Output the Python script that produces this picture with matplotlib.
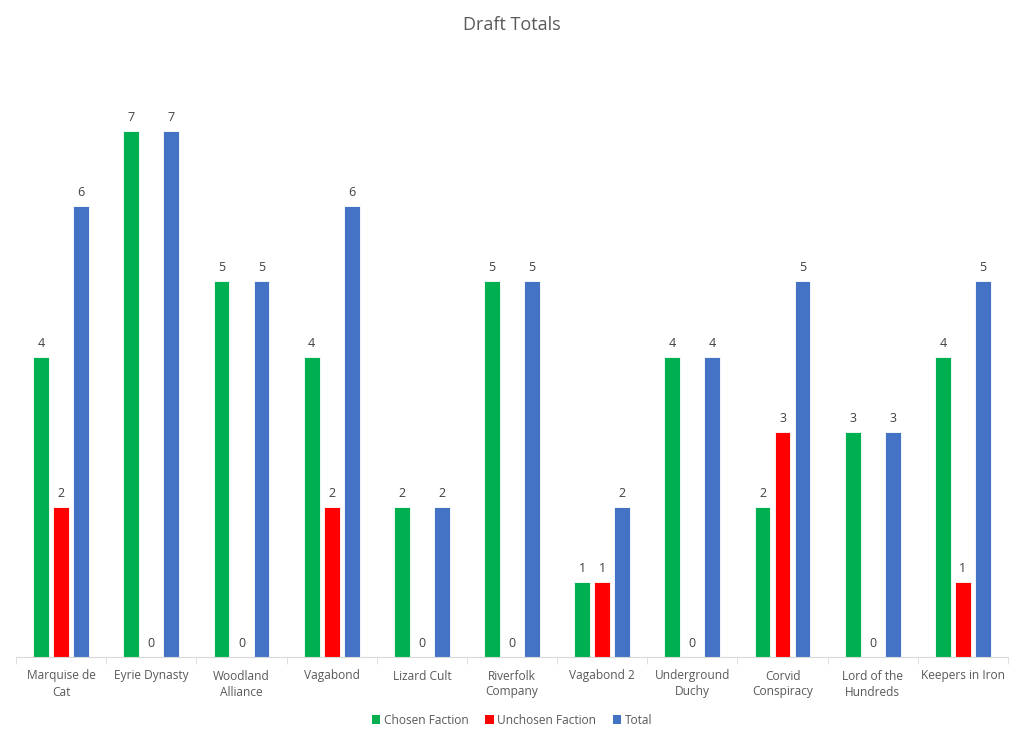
import matplotlib
matplotlib.use("Agg")
import matplotlib.pyplot as plt
import numpy as np
from matplotlib.patches import Patch

categories = ["Marquise de\nCat", "Eyrie Dynasty", "Woodland\nAlliance", "Vagabond",
              "Lizard Cult", "Riverfolk\nCompany", "Vagabond 2", "Underground\nDuchy",
              "Corvid\nConspiracy", "Lord of the\nHundreds", "Keepers in Iron"]
chosen = [4, 7, 5, 4, 2, 5, 1, 4, 2, 3, 4]
unchosen = [2, 0, 0, 2, 0, 0, 1, 0, 3, 0, 1]
total = [6, 7, 5, 6, 2, 5, 2, 4, 5, 3, 5]
series_names = ["Chosen Faction", "Unchosen Faction", "Total"]
colors = ["#00B050", "#FF0000", "#4472C4"]

plt.rcParams['font.family'] = ['Open Sans', 'DejaVu Sans']
txt = "#595959"

fig = plt.figure(figsize=(10.24, 7.43), dpi=100)
ax = fig.add_axes([16/1024, 1-657/743, (1008-16)/1024, (657-56)/743])

x = np.arange(len(categories))
w = 0.175
offs = [-0.222, 0.0, 0.222]
for vals, off, c in zip([chosen, unchosen, total], offs, colors):
    ax.bar(x + off, vals, w, color=c, edgecolor="white", linewidth=0.6, zorder=2)
    for xi, v in zip(x + off, vals):
        ax.annotate(str(v), (xi, v), xytext=(0, 5), textcoords="offset points",
                    ha="center", va="bottom", fontsize=9, color="#404040")

ax.set_xlim(-0.5, len(categories) - 0.5)
ax.set_ylim(0, 8)
ax.set_yticks([])
for s in ["top", "right", "left"]:
    ax.spines[s].set_visible(False)
ax.spines["bottom"].set_color("#D9D9D9")
ax.set_xticks(x)
ax.set_xticklabels(categories, fontsize=8.6, color=txt, linespacing=1.3)
ax.tick_params(axis="x", which="major", length=0, pad=9)
ax.set_xticks(np.arange(-0.5, len(categories)), minor=True)
ax.tick_params(axis="x", which="minor", length=5, color="#D9D9D9")

fig.text(0.5, 1 - 25/743, "Draft Totals", ha="center", va="center", fontsize=13, color=txt)

handles = [Patch(facecolor=c, label=n) for c, n in zip(colors, series_names)]
fig.legend(handles=handles, loc="center", bbox_to_anchor=(0.5, 1 - 720/743), ncol=3,
           frameon=False, fontsize=8.6, handlelength=0.7, handleheight=0.7,
           handletextpad=0.3, columnspacing=1.4, labelcolor=txt)

fig.savefig("out.png", dpi=100)
